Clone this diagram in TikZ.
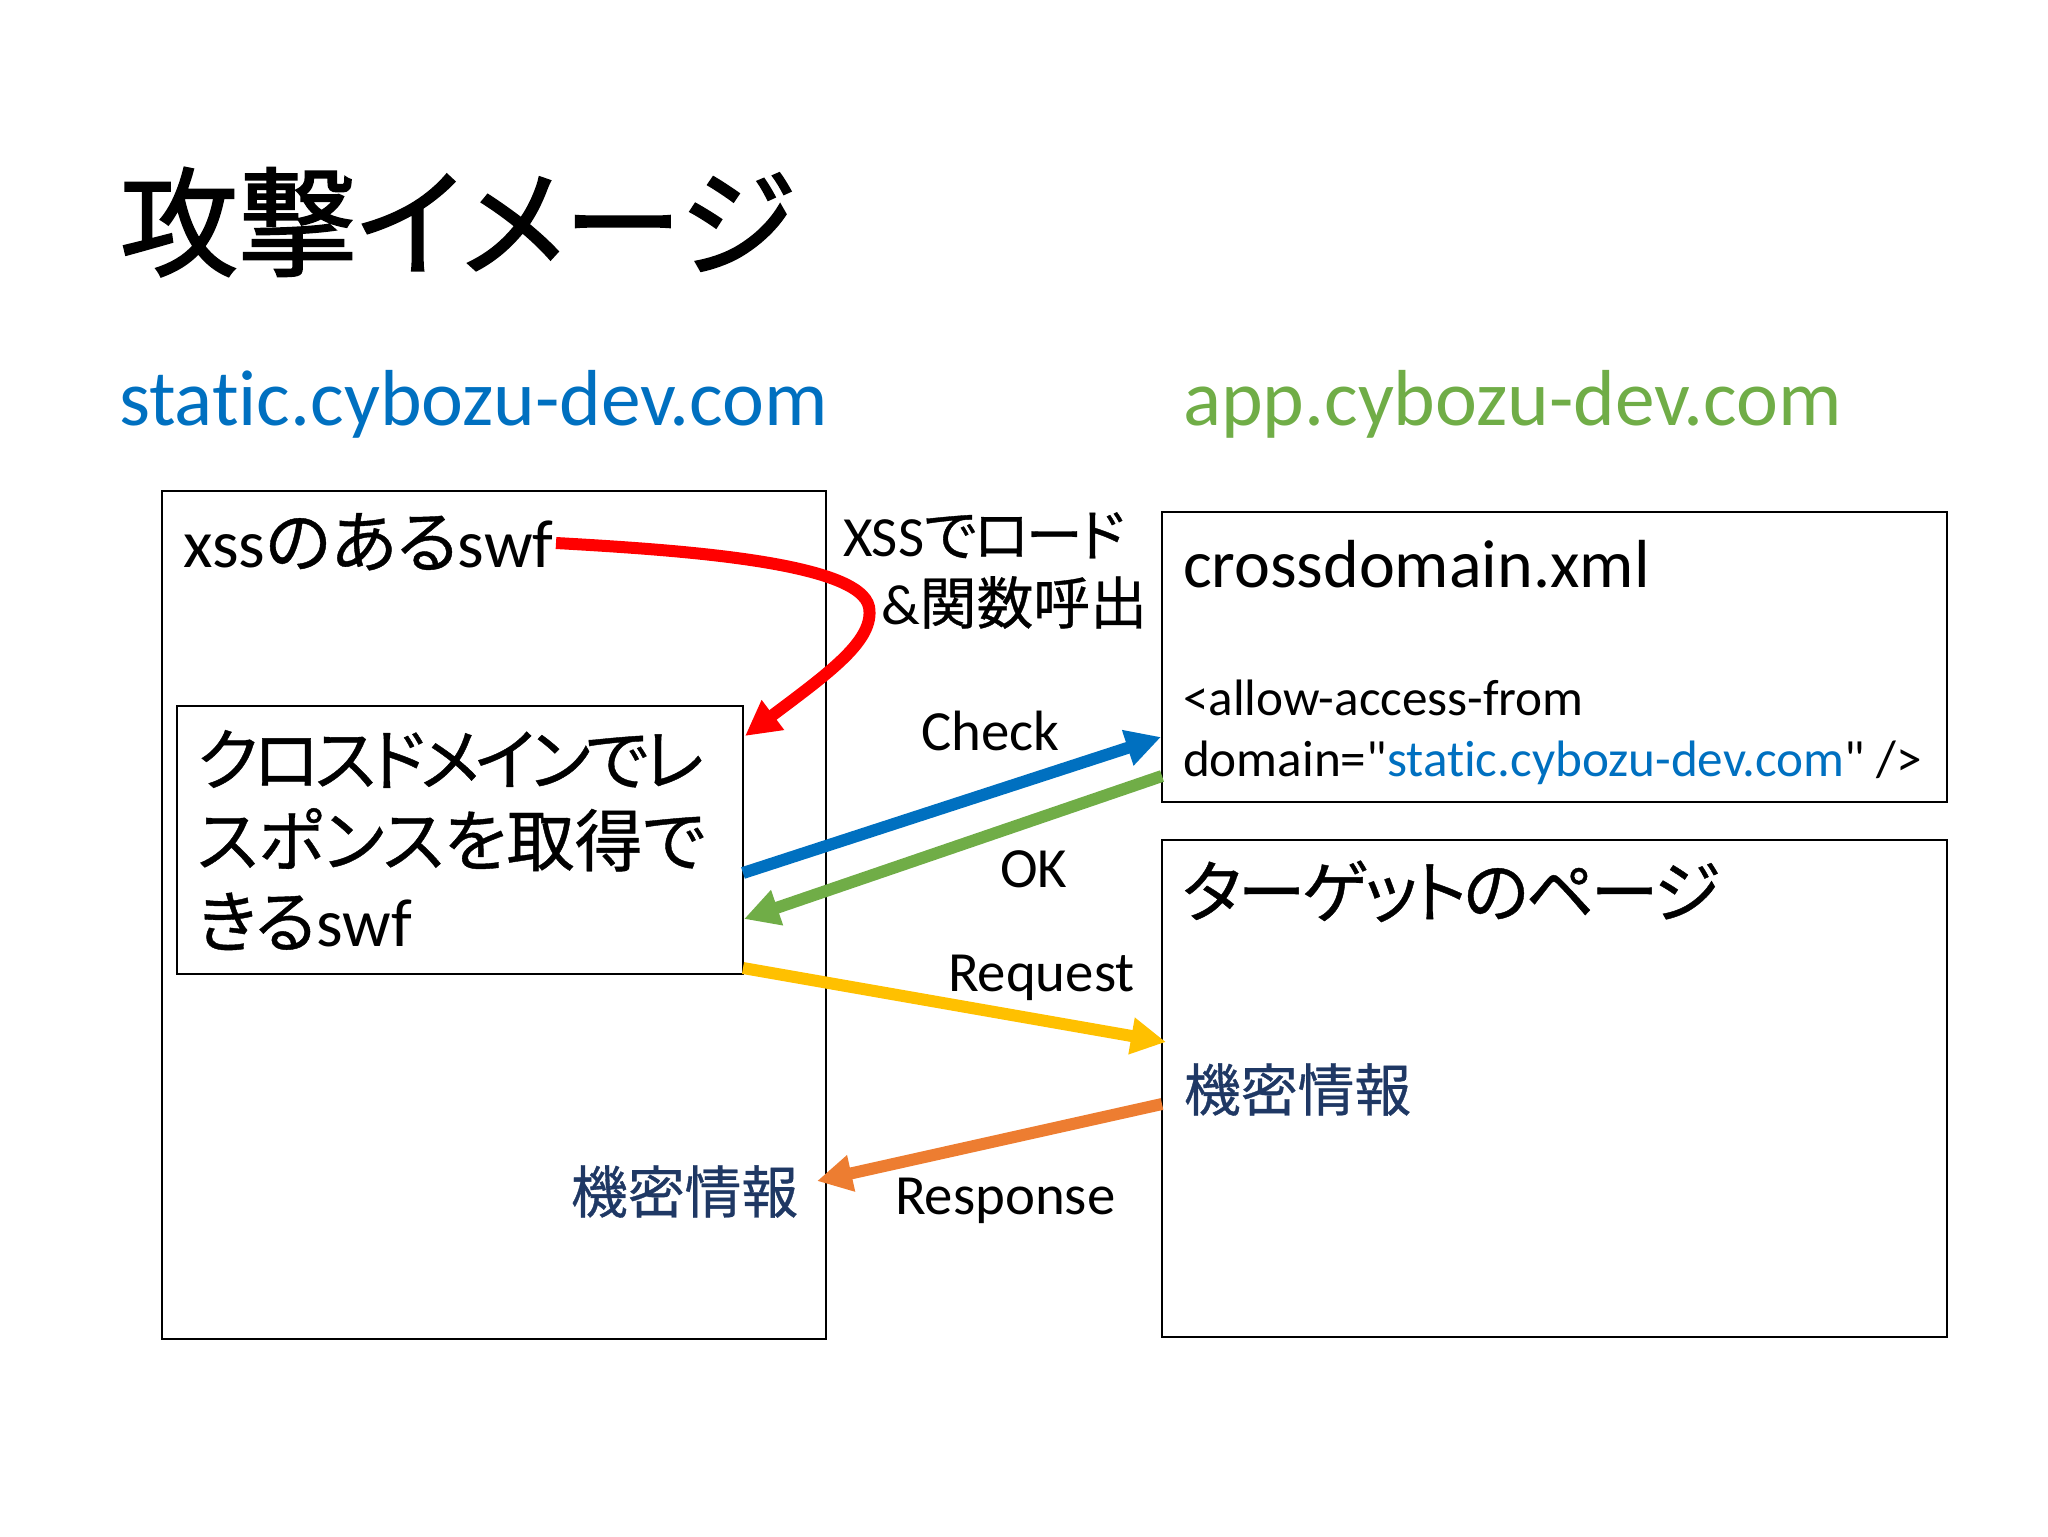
\documentclass[tikz,border=0pt]{standalone}
\usepackage{fontspec}
\usetikzlibrary{arrows.meta}
\newfontfamily\lat[Ligatures=NoCommon]{Carlito}
\newfontfamily\cjk[RawFeature={+palt},FakeBold=0.6]{Noto Sans CJK JP}
\newfontfamily\cjktitle[RawFeature={+palt},FakeBold=1.6]{Noto Sans CJK JP}
\newfontfamily\cjktight[RawFeature={+palt},FakeBold=0.6,LetterSpace=-7]{Noto Sans CJK JP}
\newfontfamily\cjksnug[RawFeature={+palt},FakeBold=0.6,LetterSpace=-5]{Noto Sans CJK JP}
\newcommand{\jp}[1]{{\cjk #1}}
\newcommand{\fpx}[2]{\fontsize{#1}{#2}\selectfont}
\definecolor{cblue}{HTML}{0070C0}
\definecolor{cgreen}{HTML}{70AD47}
\definecolor{cyellow}{HTML}{FFC000}
\definecolor{corange}{HTML}{ED7D31}
\definecolor{cred}{HTML}{FF0000}
\definecolor{cnavy}{HTML}{1F3864}
\tikzset{
  panel/.style={draw=black,line width=1pt,rectangle,inner sep=0pt,outer sep=0pt,anchor=north west},
  txt/.style={inner sep=0pt,outer sep=0pt,anchor=base west},
  block/.style={inner sep=0pt,outer sep=0pt,anchor=north west,align=left},
  flow/.style={line width=6pt,-{Triangle[length=17.5pt,width=17.5pt]}},
  big/.style={font=\fpx{39.7}{46}},
  mid/.style={font=\fpx{34}{40}},
  small/.style={font=\fpx{28.4}{34}},
  secret/.style={txt,font=\fpx{28.4}{34}\cjk,text=cnavy},
}
\begin{document}
\lat
\begin{tikzpicture}[x=0.5pt,y=-0.5pt]
\useasboundingbox (0,0) rectangle (2048,1536);
% panels
\node[panel,minimum width=331.75pt,minimum height=424pt] (outer) at (162,491) {};
\node[panel,minimum width=283.25pt,minimum height=134pt] (inner) at (176.5,706) {};
\node[panel,minimum width=392.5pt,minimum height=145pt] (xmlbox) at (1162,512) {};
\node[panel,minimum width=392.5pt,minimum height=248.5pt] (target) at (1162,840) {};
% title and domains
\node[txt,font=\fpx{59.2}{64}\cjktitle] (title) at (120,267) {攻撃イメージ};
\node[txt,big,text=cblue] (dstatic) at (119,425) {static.cybozu-dev.com};
\node[txt,big,text=cgreen] (dapp) at (1183,425) {app.cybozu-dev.com};
% box texts
\node[txt,mid] (xss) at (183,567) {xss\jp{のある}swf};
\node[block,font=\fpx{34}{40.5}] (can) at (197,730) {{\cjktight クロスドメインでレ}\\\jp{スポンスを取得で}\\\jp{きる}swf};
\node[txt,mid] (xmlname) at (1183,587) {crossdomain.xml};
\node[block,font=\fpx{25.6}{30.5}] (allow) at (1183,680) {<allow-access-from\\domain="\textcolor{cblue}{static.cybozu-dev.com}" />};
\node[txt,font=\fpx{34}{40}\cjksnug] (tpage) at (1182,917) {ターゲットのページ};
\node[secret] (sec1) at (1184,1111) {機密情報};
\node[secret] (sec2) at (571,1213) {機密情報};
% labels
\node[txt,small] (lxss) at (843,556) {XSS{\cjksnug でロード}};
\node[txt,small] (lcall) at (881,624) {\&\jp{関数呼出}};
\node[txt,small] (lcheck) at (921,750) {Check};
\node[txt,small] (lok) at (1000,887) {OK};
\node[txt,small] (lreq) at (948,991) {Request};
\node[txt,small] (lres) at (895,1214) {Response};
% connector ends
\coordinate (rs) at (556,543);
\coordinate (rm) at (869,607);
\coordinate (re) at (745,736);
\coordinate (bs) at (743,873);
\coordinate (be) at (1161,737);
\coordinate (gs) at (1162,776);
\coordinate (ge) at (744,919);
\coordinate (ys) at (743,968);
\coordinate (ye) at (1166,1042);
\coordinate (os) at (1162,1104);
\coordinate (oe) at (817,1181);
% connectors
\draw[flow,cred] (rs) .. controls (680,550) and (860,562) .. (rm) .. controls (875,640) and (830,672) .. (re);
\draw[flow,cblue] (bs) -- (be);
\draw[flow,cgreen] (gs) -- (ge);
\draw[flow,cyellow] (ys) -- (ye);
\draw[flow,corange] (os) -- (oe);
\end{tikzpicture}
\end{document}
